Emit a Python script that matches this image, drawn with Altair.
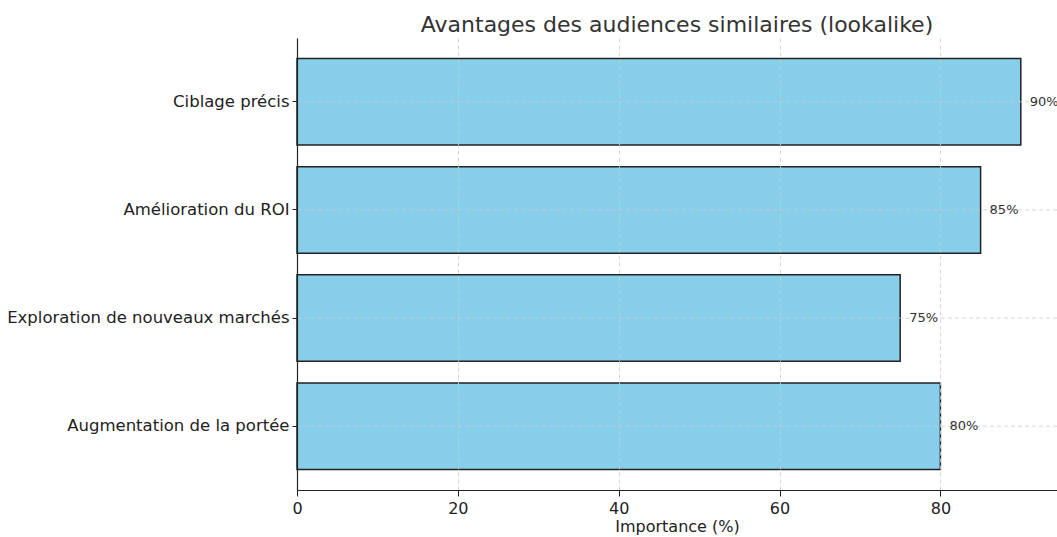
import altair as alt
import pandas as pd

categories = ["Ciblage précis", "Amélioration du ROI", "Exploration de nouveaux marchés", "Augmentation de la portée"]
values = [90, 85, 75, 80]
labels = ["90%", "85%", "75%", "80%"]

df = pd.DataFrame({"cat": categories, "val": values, "lab": labels})

FONT = "DejaVu Sans"

y_enc = alt.Y("cat:N", sort=categories, title=None,
              scale=alt.Scale(paddingInner=0.2, paddingOuter=0.19),
              axis=alt.Axis(labelFontSize=16.5, labelColor="#222", labelFont=FONT,
                            tickSize=5, tickColor="#222", domainColor="#222", domainWidth=1.2,
                            labelPadding=3, bandPosition=0.5, tickExtra=False,
                            grid=False, zindex=1, labelLimit=400))

x_enc = alt.X("val:Q", title="Importance (%)",
              scale=alt.Scale(domain=[0, 94.5], nice=False, zero=True),
              axis=alt.Axis(values=[0, 20, 40, 60, 80], labelFontSize=16, labelColor="#222",
                            labelFont=FONT, titleFont=FONT, titleFontSize=16, titleFontWeight="normal",
                            titleColor="#222", tickSize=6, tickColor="#222", domainColor="#222",
                            domainWidth=1.2, labelPadding=4, titlePadding=2, labelFlush=False,
                            grid=True, gridColor="#cccccc", gridDash=[4, 3], gridWidth=0.8,
                            zindex=1))

bars = alt.Chart(df).mark_bar(color="#87CEEB", stroke="#222222", strokeWidth=1.5).encode(
    x=x_enc, y=y_enc
)

hgrid = alt.Chart(df).mark_rule(color="#cccccc", strokeDash=[4, 3], strokeWidth=0.8).encode(
    y=alt.Y("cat:N", sort=categories)
)

text = alt.Chart(df).mark_text(align="left", baseline="middle", dx=9, fontSize=13,
                               font=FONT, color="#333333").encode(
    x=alt.X("val:Q"), y=alt.Y("cat:N", sort=categories), text="lab:N"
)

chart = alt.layer(bars, hgrid, text).properties(
    width=760, height=452,
    background="white",
    title=alt.TitleParams("Avantages des audiences similaires (lookalike)", fontSize=22,
                          font=FONT, fontWeight="normal", color="#333", anchor="middle", offset=1),
    autosize=alt.AutoSizeParams(type="none"),
    padding={"left": 297, "top": 38, "right": 0, "bottom": 47},
).configure_view(stroke=None)

chart.save("out.html", embed_options={"renderer": "svg", "actions": False})
